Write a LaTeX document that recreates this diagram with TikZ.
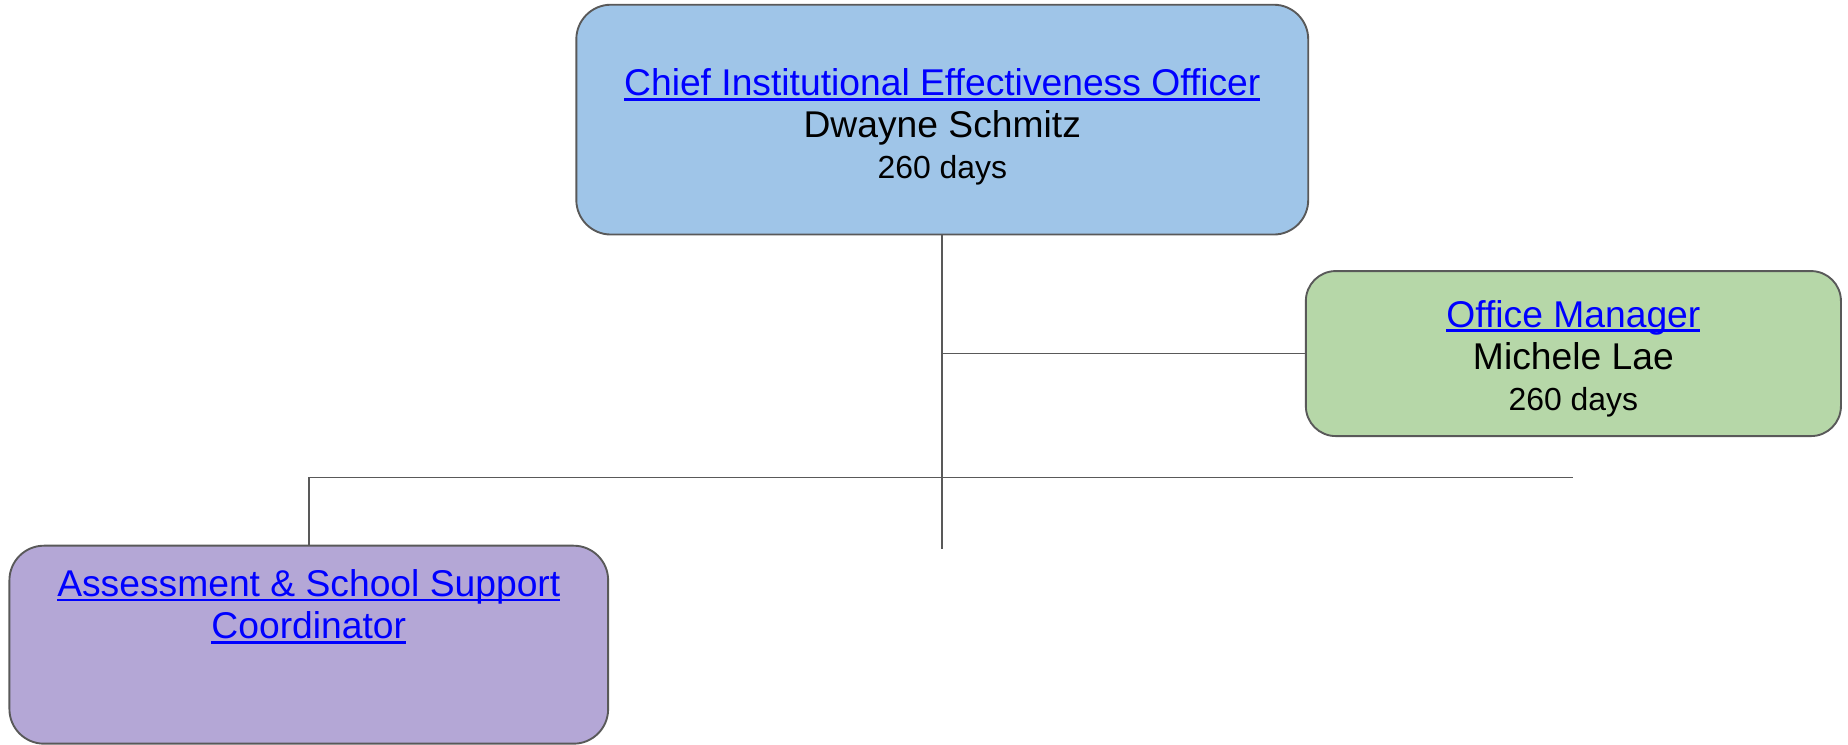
\documentclass[tikz,border=0pt]{standalone}
\usepackage{fontspec}
\setmainfont{Liberation Sans}
\usetikzlibrary{positioning}

\definecolor{ceoblue}{HTML}{9FC5E8}
\definecolor{omgreen}{HTML}{B6D7A8}
\definecolor{ascpurple}{HTML}{B4A7D6}
\definecolor{edgegray}{HTML}{595959}
\definecolor{linkblue}{HTML}{0000FF}

\newsavebox{\lnkbox}
\newcommand{\lnk}[1]{{\color{linkblue}\sbox{\lnkbox}{#1}%
  \rlap{\rule[-3.2pt]{\wd\lnkbox}{1.8pt}}\usebox{\lnkbox}}}
\newcommand{\bigtxt}{\fontsize{23.7}{27}\selectfont}
\newcommand{\smalltxt}{\fontsize{20.3}{24}\selectfont}

\tikzset{
  unit/.style={draw=edgegray, line width=1.2pt, rounded corners=22pt,
    align=center, font=\bigtxt, inner sep=0pt},
  link/.style={draw=edgegray, line width=1pt}
}

\begin{document}
\begin{tikzpicture}[x=0.75pt,y=-0.75pt]
  \useasboundingbox (0,0) rectangle (1568,632);

  \node[unit, fill=ceoblue, minimum width=621*0.75pt, minimum height=195*0.75pt]
    (ceo) at (799.5,101.5)
    {\rule{0pt}{26.5pt}\lnk{Chief Institutional Effectiveness Officer}\\ Dwayne Schmitz\\[-1pt] {\smalltxt 260 days}};
  \node[unit, fill=omgreen, rounded corners=19pt, minimum width=454*0.75pt, minimum height=140*0.75pt]
    (om) at (1335,300)
    {\rule{0pt}{23.5pt}\lnk{Office Manager}\\ Michele Lae\\[-1pt] {\smalltxt 260 days}};
  \node[unit, fill=ascpurple, minimum width=508*0.75pt, minimum height=168*0.75pt]
    (asc) at (262,547) {};
  \node[align=center, font=\bigtxt, inner sep=0pt, below=15.5pt of asc.north]
    (asclbl) {\lnk{Assessment \& School Support}\\ \lnk{Coordinator}};

  \coordinate (jom) at (ceo.south |- om.west);
  \coordinate (bar) at (799.5,405);
  \coordinate (barL) at (asc.north |- bar);
  \coordinate (barR) at (om.south |- bar);
  \coordinate (stem) at (799.5,466);

  \draw[link] (ceo.south) -- (stem);
  \draw[link] (jom) -- (om.west);
  \draw[link] (barL) -- (barR);
  \draw[link] (barL) -- (asc.north);
\end{tikzpicture}
\end{document}
